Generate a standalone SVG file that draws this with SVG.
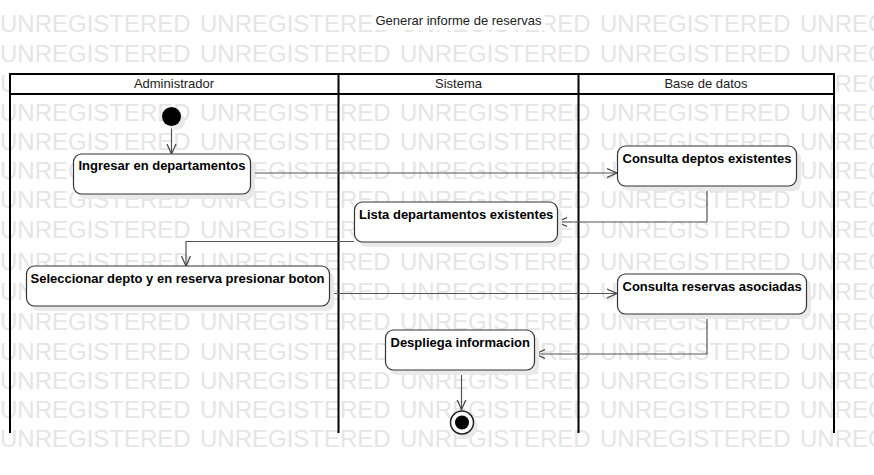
<svg xmlns="http://www.w3.org/2000/svg" width="874" height="475" viewBox="0 0 874 475">
<defs>
<style>
.wm{font-family:"Liberation Sans",Arial,sans-serif;font-size:24px;fill:#e5e5e5}
.lane{stroke:#000;stroke-width:2;fill:none}
.hdr{font-family:"Liberation Sans",Arial,sans-serif;font-size:13px;fill:#222;text-anchor:middle}
.box{fill:#fff;stroke:#333;stroke-width:1.2}
.shadow{fill:#e9e9e9}
.lbl{font-family:"Liberation Sans",Arial,sans-serif;font-size:13px;font-weight:bold;fill:#000}
.conn{fill:none;stroke:#555;stroke-width:1.2}
</style>
<marker id="arr" markerUnits="userSpaceOnUse" markerWidth="12" markerHeight="12" refX="10" refY="5" orient="auto" viewBox="0 0 12 10">
<path d="M0,0.5 L10,5 L0,9.5" fill="none" stroke="#444" stroke-width="1.2"/>
</marker>
</defs>
<rect x="0" y="0" width="874" height="475" fill="#fff"/>
<g id="watermark">
<text class="wm" y="32"><tspan x="0">UNREGISTERED</tspan><tspan x="200">UNREGISTERED</tspan><tspan x="400">UNREGISTERED</tspan><tspan x="600">UNREGISTERED</tspan><tspan x="800">UNREGISTERED</tspan></text>
<text class="wm" y="62"><tspan x="0">UNREGISTERED</tspan><tspan x="200">UNREGISTERED</tspan><tspan x="400">UNREGISTERED</tspan><tspan x="600">UNREGISTERED</tspan><tspan x="800">UNREGISTERED</tspan></text>
<text class="wm" y="92"><tspan x="0">UNREGISTERED</tspan><tspan x="200">UNREGISTERED</tspan><tspan x="400">UNREGISTERED</tspan><tspan x="600">UNREGISTERED</tspan><tspan x="800">UNREGISTERED</tspan></text>
<text class="wm" y="121"><tspan x="0">UNREGISTERED</tspan><tspan x="200">UNREGISTERED</tspan><tspan x="400">UNREGISTERED</tspan><tspan x="600">UNREGISTERED</tspan><tspan x="800">UNREGISTERED</tspan></text>
<text class="wm" y="150"><tspan x="0">UNREGISTERED</tspan><tspan x="200">UNREGISTERED</tspan><tspan x="400">UNREGISTERED</tspan><tspan x="600">UNREGISTERED</tspan><tspan x="800">UNREGISTERED</tspan></text>
<text class="wm" y="179"><tspan x="0">UNREGISTERED</tspan><tspan x="200">UNREGISTERED</tspan><tspan x="400">UNREGISTERED</tspan><tspan x="600">UNREGISTERED</tspan><tspan x="800">UNREGISTERED</tspan></text>
<text class="wm" y="208"><tspan x="0">UNREGISTERED</tspan><tspan x="200">UNREGISTERED</tspan><tspan x="400">UNREGISTERED</tspan><tspan x="600">UNREGISTERED</tspan><tspan x="800">UNREGISTERED</tspan></text>
<text class="wm" y="238"><tspan x="0">UNREGISTERED</tspan><tspan x="200">UNREGISTERED</tspan><tspan x="400">UNREGISTERED</tspan><tspan x="600">UNREGISTERED</tspan><tspan x="800">UNREGISTERED</tspan></text>
<text class="wm" y="270"><tspan x="0">UNREGISTERED</tspan><tspan x="200">UNREGISTERED</tspan><tspan x="400">UNREGISTERED</tspan><tspan x="600">UNREGISTERED</tspan><tspan x="800">UNREGISTERED</tspan></text>
<text class="wm" y="300"><tspan x="0">UNREGISTERED</tspan><tspan x="200">UNREGISTERED</tspan><tspan x="400">UNREGISTERED</tspan><tspan x="600">UNREGISTERED</tspan><tspan x="800">UNREGISTERED</tspan></text>
<text class="wm" y="330"><tspan x="0">UNREGISTERED</tspan><tspan x="200">UNREGISTERED</tspan><tspan x="400">UNREGISTERED</tspan><tspan x="600">UNREGISTERED</tspan><tspan x="800">UNREGISTERED</tspan></text>
<text class="wm" y="360"><tspan x="0">UNREGISTERED</tspan><tspan x="200">UNREGISTERED</tspan><tspan x="400">UNREGISTERED</tspan><tspan x="600">UNREGISTERED</tspan><tspan x="800">UNREGISTERED</tspan></text>
<text class="wm" y="389"><tspan x="0">UNREGISTERED</tspan><tspan x="200">UNREGISTERED</tspan><tspan x="400">UNREGISTERED</tspan><tspan x="600">UNREGISTERED</tspan><tspan x="800">UNREGISTERED</tspan></text>
<text class="wm" y="418"><tspan x="0">UNREGISTERED</tspan><tspan x="200">UNREGISTERED</tspan><tspan x="400">UNREGISTERED</tspan><tspan x="600">UNREGISTERED</tspan><tspan x="800">UNREGISTERED</tspan></text>
<text class="wm" y="447"><tspan x="0">UNREGISTERED</tspan><tspan x="200">UNREGISTERED</tspan><tspan x="400">UNREGISTERED</tspan><tspan x="600">UNREGISTERED</tspan><tspan x="800">UNREGISTERED</tspan></text>
</g>
<g id="title">
<rect x="373" y="10" width="172" height="20" fill="#fff"/>
<text x="458.5" y="25" class="hdr">Generar informe de reservas</text>
</g>
<g id="swimlanes">
<rect x="10" y="74" width="824" height="20" fill="#fff"/>
<line class="lane" x1="9" y1="74" x2="835" y2="74"/>
<line class="lane" x1="10" y1="94" x2="834" y2="94"/>
<line class="lane" x1="10" y1="74" x2="10" y2="433"/>
<line class="lane" x1="338.5" y1="74" x2="338.5" y2="433"/>
<line class="lane" x1="578.5" y1="74" x2="578.5" y2="433"/>
<line class="lane" x1="834" y1="74" x2="834" y2="433"/>
<text class="hdr" x="174" y="88">Administrador</text>
<text class="hdr" x="458.5" y="88">Sistema</text>
<text class="hdr" x="706" y="88">Base de datos</text>
</g>
<g id="connectors">
<path class="conn" d="M171.5,126 L171.5,154" marker-end="url(#arr)"/>
<path class="conn" d="M250,173 L617,173" marker-end="url(#arr)"/>
<path class="conn" d="M707,186 L707,222 L557,222" marker-end="url(#arr)"/>
<path class="conn" d="M354,241.5 L186,241.5 L186,266" marker-end="url(#arr)"/>
<path class="conn" d="M329,293.5 L617,293.5" marker-end="url(#arr)"/>
<path class="conn" d="M707,314 L707,354 L535,354" marker-end="url(#arr)"/>
<path class="conn" d="M461.5,370 L461.5,409.5" marker-end="url(#arr)"/>
</g>
<g id="initial">
<circle cx="176" cy="121" r="9" class="shadow"/>
<circle cx="171.5" cy="116.5" r="9.5" fill="#000"/>
</g>
<g id="n_ingresar">
<rect class="shadow" x="78" y="159" width="177" height="40" rx="8"/>
<rect class="box" x="73.5" y="154" width="177" height="40" rx="8"/>
<text class="lbl" x="78.5" y="170">Ingresar en departamentos</text>
</g>
<g id="n_consulta_deptos">
<rect class="shadow" x="622" y="151" width="179" height="40" rx="8"/>
<rect class="box" x="617.5" y="146" width="179" height="40" rx="8"/>
<text class="lbl" x="622.5" y="162.5">Consulta deptos existentes</text>
</g>
<g id="n_lista">
<rect class="shadow" x="359" y="207" width="203" height="40" rx="8"/>
<rect class="box" x="354.5" y="202" width="203" height="40" rx="8"/>
<text class="lbl" x="359" y="218.5">Lista departamentos existentes</text>
</g>
<g id="n_seleccionar">
<rect class="shadow" x="31" y="271" width="303" height="40" rx="8"/>
<rect class="box" x="26.5" y="266" width="303" height="40" rx="8"/>
<text class="lbl" x="30.5" y="283">Seleccionar depto y en reserva presionar boton</text>
</g>
<g id="n_consulta_reservas">
<rect class="shadow" x="622" y="279" width="189" height="40" rx="8"/>
<rect class="box" x="617.5" y="274" width="189" height="40" rx="8"/>
<text class="lbl" x="622.5" y="290.5">Consulta reservas asociadas</text>
</g>
<g id="n_despliega">
<rect class="shadow" x="390" y="335" width="149" height="40" rx="8"/>
<rect class="box" x="385.5" y="330" width="149" height="40" rx="8"/>
<text class="lbl" x="390.5" y="346.5">Despliega informacion</text>
</g>
<g id="final">
<circle cx="466" cy="427" r="11.5" class="shadow"/>
<circle cx="462" cy="422.5" r="11.5" fill="#fff" stroke="#222" stroke-width="1.5"/>
<circle cx="462" cy="422.5" r="7" fill="#000"/>
</g>
</svg>
